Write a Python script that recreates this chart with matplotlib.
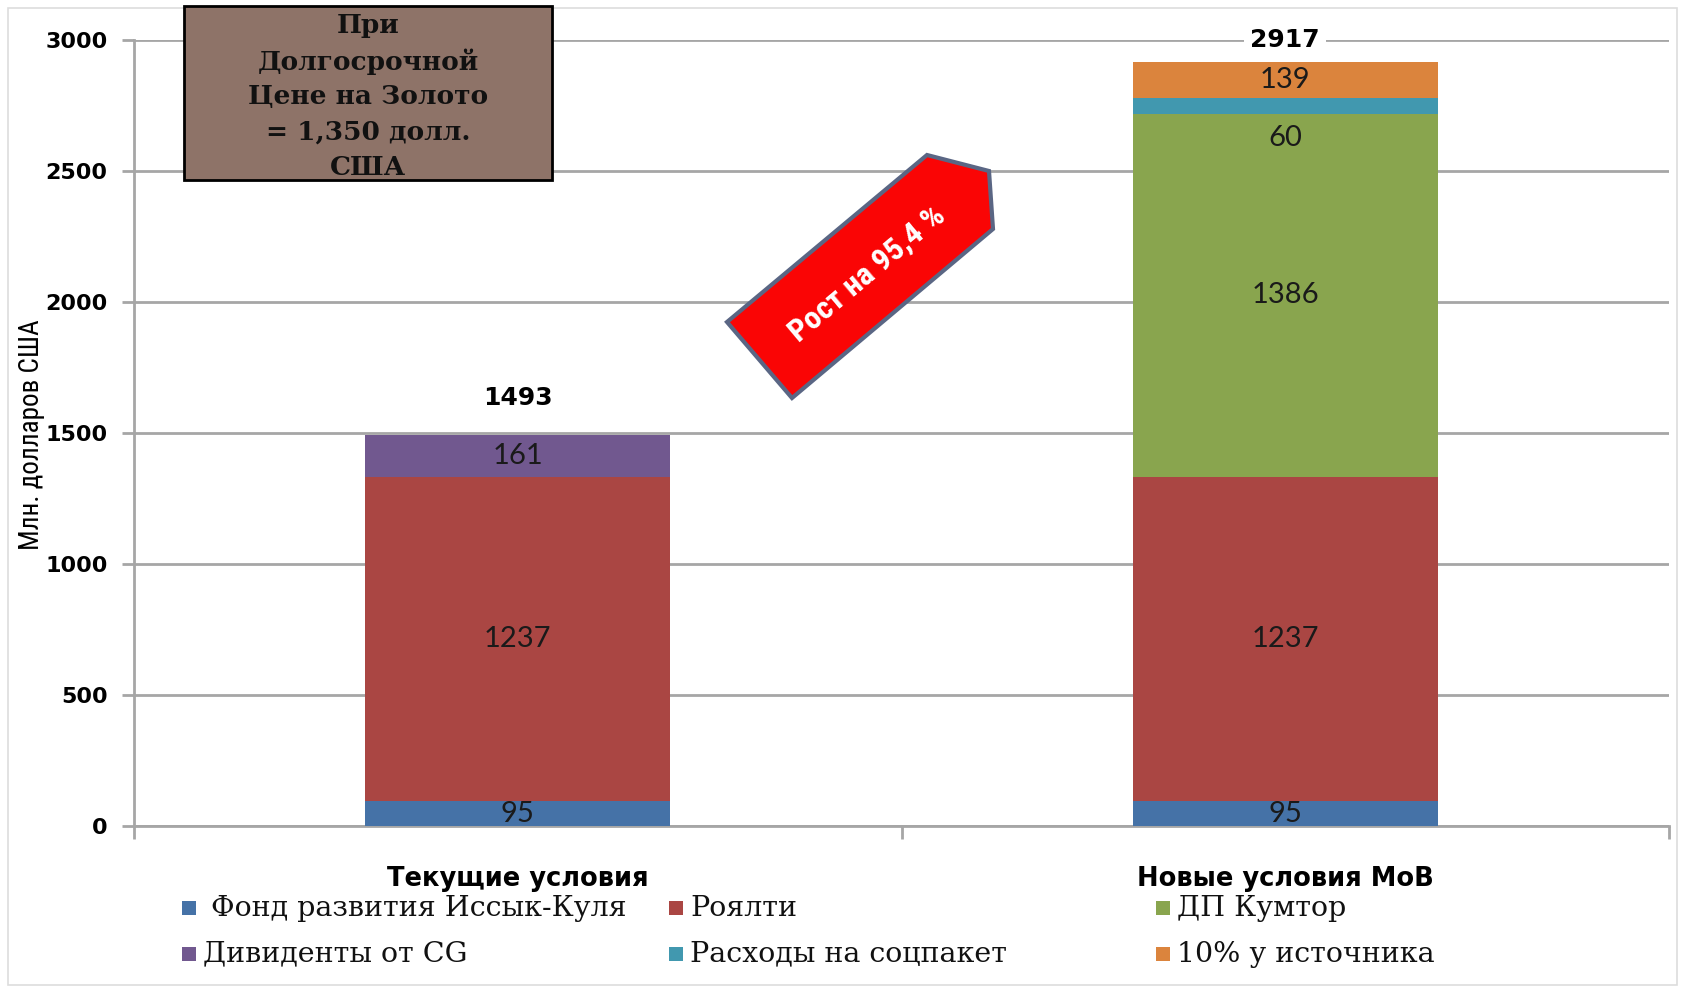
import matplotlib
matplotlib.use("Agg")
import matplotlib.pyplot as plt
from matplotlib.patches import Polygon, Rectangle
from matplotlib import font_manager
import numpy as np

categories = ["Текущие условия", "Новые условия МоВ"]
series_names = ["Фонд развития Иссык-Куля", "Роялти", "ДП Кумтор",
                "Дивиденты от CG", "Расходы на соцпакет", "10% у источника"]
series_values = {
    "Фонд развития Иссык-Куля": [95, 95],
    "Роялти": [1237, 1237],
    "Дивиденты от CG": [161, 0],
    "ДП Кумтор": [0, 1386],
    "Расходы на соцпакет": [0, 60],
    "10% у источника": [0, 139],
}
stack_order = ["Фонд развития Иссык-Куля", "Роялти", "Дивиденты от CG",
               "ДП Кумтор", "Расходы на соцпакет", "10% у источника"]
colors = {
    "Фонд развития Иссык-Куля": "#4572A7",
    "Роялти": "#AA4643",
    "ДП Кумтор": "#89A54E",
    "Дивиденты от CG": "#71588F",
    "Расходы на соцпакет": "#4198AF",
    "10% у источника": "#DB843D",
}
yticks = [0, 500, 1000, 1500, 2000, 2500, 3000]
box_lines = ["При", "Долгосрочной", "Цене на Золото", "= 1,350 долл.", "США"]
arrow_text = "Рост на 95,4 %"
ylabel = "Млн. долларов США"

available = {f.name for f in font_manager.fontManager.ttflist}
narrow = [f for f in ["Liberation Sans Narrow", "DejaVu Sans Condensed",
                      "Roboto Condensed", "Open Sans Condensed"] if f in available]
narrow_family = narrow + ["DejaVu Sans"]

W, H = 1682, 988
fig = plt.figure(figsize=(W / 100, H / 100), dpi=100)
fig.patch.set_facecolor("white")

def fx(px):
    return px / W

def fy(py):
    return 1 - py / H

ax = fig.add_axes([fx(134), fy(826), fx(1669) - fx(134), fy(40) - fy(826)])
ax.set_xlim(-0.5, 1.5)
ax.set_ylim(0, 3000)

x = np.arange(len(categories))
bottom = np.zeros(len(categories))
for name in stack_order:
    vals = np.array(series_values[name], dtype=float)
    ax.bar(x, vals, width=0.398, bottom=bottom, color=colors[name],
           zorder=3, linewidth=0)
    for i, v in enumerate(vals):
        if v > 0:
            yoff = -23 if name == "Расходы на соцпакет" else 0
            ax.annotate(str(int(v)), (x[i], bottom[i] + v / 2),
                        xytext=(0, yoff), textcoords="offset points",
                        ha="center", va="center", fontsize=21,
                        family=["Lato", "DejaVu Sans"], color="#1a1a1a",
                        zorder=5)
    bottom += vals

totals = bottom
for i, t in enumerate(totals):
    ax.text(x[i], min(t + 140, 3000), str(int(t)), ha="center", va="center",
            fontsize=18, fontweight="bold", family="DejaVu Sans", color="black",
            zorder=6,
            bbox=dict(boxstyle="square,pad=0.25", facecolor="white",
                      edgecolor="none"))

ax.set_yticks(yticks)
ax.set_yticklabels([str(v) for v in yticks], fontsize=16, fontweight="bold",
                   family="DejaVu Sans")
ax.yaxis.grid(True, color="#A6A6A6", linewidth=2, zorder=0)
ax.set_axisbelow(True)
ax.tick_params(axis="y", length=9, width=2, color="#A6A6A6", pad=10)
ax.set_xticks([-0.5, 0.5, 1.5])
ax.set_xticklabels([])
ax.tick_params(axis="x", length=9, width=2, color="#A6A6A6", direction="out")
for s in ["top", "right"]:
    ax.spines[s].set_visible(False)
for s in ["left", "bottom"]:
    ax.spines[s].set_color("#A6A6A6")
    ax.spines[s].set_linewidth(2)

for i, c in enumerate(categories):
    ax.text(x[i], -0.068, c, transform=ax.get_xaxis_transform(),
            ha="center", va="center", fontsize=18.5, fontweight="bold",
            family="DejaVu Sans")

fig.text(fx(32), fy(435), ylabel, rotation=90, ha="center", va="center",
         fontsize=19.5, family=narrow_family)

# legend (row-wise, 3 columns)
legend_cols = [189, 676, 1163]
legend_rows = [908, 954]
for k, name in enumerate(series_names):
    r, cidx = divmod(k, 3)
    px, py = legend_cols[cidx], legend_rows[r]
    fig.patches.append(Rectangle((fx(px - 7), fy(py + 7)), fx(14), 14 / H,
                                 transform=fig.transFigure,
                                 facecolor=colors[name], edgecolor="none"))
    shift = 22 if k == 0 else 14
    fig.text(fx(px + shift), fy(py), name, ha="left", va="center", fontsize=20.5,
             family="DejaVu Serif", color="#111111")

# annotation box
fig.patches.append(Rectangle((fx(184), fy(180)), fx(552 - 184), (180 - 6) / H,
                             transform=fig.transFigure, facecolor="#8E7368",
                             edgecolor="black", linewidth=2, zorder=10))
for j, line in enumerate(box_lines):
    fig.text(fx(368), fy(26 + 35.4 * j), line, ha="center", va="center",
             fontsize=19, fontweight="bold", family="DejaVu Serif",
             color="#111111", zorder=11)

# arrow-shaped tag
pts = [(727, 322), (927, 155), (989, 171), (993, 229), (792, 398)]
fig.patches.append(Polygon([(fx(a), fy(b)) for a, b in pts], closed=True,
                           transform=fig.transFigure, facecolor="#FA0505",
                           edgecolor="#5A6684", linewidth=3, zorder=10))
fig.text(fx(867), fy(274), arrow_text, rotation=40, ha="center", va="center",
         fontsize=23, fontweight="bold", family=narrow_family[:1] + ["Open Sans", "DejaVu Sans"],
         color="white", zorder=11, rotation_mode="anchor")

# outer frame
fig.patches.append(Rectangle((fx(8), fy(985)), fx(1677 - 8), (985 - 8) / H,
                             transform=fig.transFigure, facecolor="none",
                             edgecolor="#DDDDDD", linewidth=1.2, zorder=0))

fig.savefig("out.png", dpi=100, facecolor="white")
